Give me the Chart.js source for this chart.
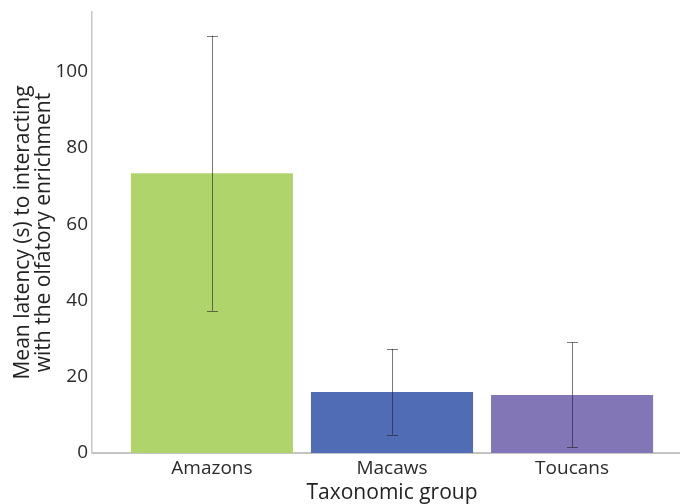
<!DOCTYPE html>
<html>
<head>
<meta charset="utf-8">
<script src="https://cdn.jsdelivr.net/npm/chart.js@4/dist/chart.umd.min.js"></script>
<style>
  html, body { margin: 0; padding: 0; background: #fff; }
  #wrap { width: 680px; height: 504px; overflow: hidden; }
  #inner { width: 700px; height: 504px; position: relative; }
</style>
</head>
<body>
<div id="wrap"><div id="inner"><canvas id="myChart"></canvas></div></div>
<script>
// values
var groups = ['Amazons', 'Macaws', 'Toucans'];
var meanLatency = [73.3, 16.0, 15.2];
var errLow = [37.3, 4.8, 1.5];
var errHigh = [109.4, 27.3, 29.0];
var yTicks = [0, 20, 40, 60, 80, 100];
var barColors = ['#b0d46c', '#4f6cb5', '#8276b6'];

var errorBars = {
    id: 'errorBars',
    afterDatasetsDraw: function (chart) {
        var ctx = chart.ctx;
        var xs = chart.scales.x;
        var ys = chart.scales.y;
        ctx.save();
        ctx.strokeStyle = 'rgba(30, 30, 30, 0.6)';
        ctx.lineWidth = 1;
        for (var i = 0; i < groups.length; i++) {
            var x = Math.round(xs.getPixelForValue(i)) + 0.5;
            var lo = ys.getPixelForValue(errLow[i]);
            var hi = ys.getPixelForValue(errHigh[i]);
            ctx.beginPath();
            ctx.moveTo(x, lo);
            ctx.lineTo(x, hi);
            ctx.moveTo(x - 5.5, Math.round(hi) + 0.5);
            ctx.lineTo(x + 5.5, Math.round(hi) + 0.5);
            ctx.moveTo(x - 5.5, Math.round(lo) + 0.5);
            ctx.lineTo(x + 5.5, Math.round(lo) + 0.5);
            ctx.stroke();
        }
        ctx.restore();
    }
};

var ctx = document.getElementById('myChart').getContext('2d');
var latencyChart = new Chart(ctx, {
    type: 'bar',
    data: {
        datasets: [{
            data: meanLatency.map(function (v, i) { return { x: i, y: v }; }),
            backgroundColor: barColors,
            categoryPercentage: 1,
            barPercentage: 0.9
        }]
    },
    options: {
        responsive: true,
        maintainAspectRatio: false,
        animation: false,
        layout: { padding: { top: 12, right: 8, left: 0, bottom: 0 } },
        plugins: {
            legend: { display: false },
            tooltip: { enabled: false }
        },
        scales: {
            x: {
                type: 'linear',
                offset: false,
                bounds: 'data',
                min: -0.666,
                max: 2.666,
                grid: { display: false, drawTicks: false },
                border: { display: true, color: '#c4c4c4', width: 2 },
                afterBuildTicks: function (scale) {
                    scale.ticks = groups.map(function (g, i) { return { value: i }; });
                },
                afterFit: function (scale) {
                    scale.height = 51;
                    scale.paddingLeft = 0;
                    scale.paddingRight = 0;
                },
                ticks: {
                    padding: 4,
                    color: '#2b2b2b',
                    font: { family: 'Open Sans', size: 19 },
                    callback: function (v) { return groups[v]; }
                },
                title: {
                    display: true,
                    text: 'Taxonomic group',
                    color: '#222',
                    padding: 0,
                    font: { family: 'Open Sans', size: 21, lineHeight: 1.0 }
                }
            },
            y: {
                min: 0,
                max: 115.6,
                grid: { display: false, drawTicks: false },
                border: { display: true, color: '#c8c8c8', width: 1.5 },
                afterBuildTicks: function (scale) {
                    scale.ticks = yTicks.map(function (v) { return { value: v }; });
                },
                afterFit: function (scale) {
                    scale.width = 92;
                    scale.paddingTop = 0;
                    scale.paddingBottom = 0;
                },
                ticks: {
                    padding: 4,
                    color: '#2b2b2b',
                    font: { family: 'Open Sans', size: 19 }
                },
                title: {
                    display: true,
                    text: ['Mean latency (s) to interacting', 'with the olfatory enrichment'],
                    color: '#222',
                    padding: { top: 12.5 },
                    font: { family: 'Open Sans', size: 21, lineHeight: 1.0 }
                }
            }
        }
    },
    plugins: [errorBars]
});
</script>
</body>
</html>
